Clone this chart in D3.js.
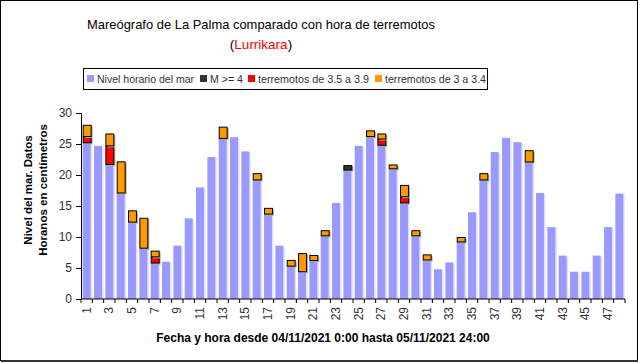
<!DOCTYPE html>
<html><head><meta charset="utf-8">
<script src="https://cdn.jsdelivr.net/npm/d3@7"></script>
<style>body{margin:0;background:#fff}svg{display:block;font-family:Arial,"Liberation Sans",sans-serif}</style>
</head><body><svg id="c" width="640" height="363"></svg>
<script>
const categories = ["1","2","3","4","5","6","7","8","9","10","11","12","13","14","15","16","17","18","19","20","21","22","23","24","25","26","27","28","29","30","31","32","33","34","35","36","37","38","39","40","41","42","43","44","45","46","47","48"];
const nivel = [25.2,24.7,21.7,17.1,12.4,8.2,5.8,6.0,8.6,13.0,18.0,22.9,25.9,26.1,23.8,19.2,13.7,8.6,5.3,4.4,6.2,10.2,15.5,20.8,24.7,26.2,24.8,21.0,15.5,10.2,6.3,4.8,5.9,9.2,14.0,19.2,23.7,26.0,25.3,22.1,17.1,11.6,7.0,4.4,4.4,7.0,11.6,17.0];
const m4 =      [0,0,0,0,0,0,0,0,0,0,0,0,0,0,0,0,0,0,0,0,0,0,0,0.8,0,0,0,0,0,0,0,0,0,0,0,0,0,0,0,0,0,0,0,0,0,0,0,0];
const t35 =     [1.0,0,3.0,0,0,0,1.0,0,0,0,0,0,0,0,0,0,0,0,0,0,0,0,0,0,0,0,1.0,0,1.0,0,0,0,0,0,0,0,0,0,0,0,0,0,0,0,0,0,0,0];
const t30 =     [1.9,0,2.0,5.1,1.9,4.9,1.0,0,0,0,0,0,1.9,0,0,1.1,1.0,0,1.0,3.0,0.9,0.9,0,0,0,1.0,0.9,0.7,1.9,0.9,0.9,0,0,0.8,0,1.1,0,0,0,1.9,0,0,0,0,0,0,0,0];
const seriesNames = ["Nivel horario del mar","M >= 4","terremotos de 3.5 a 3.9","terremotos de 3 a 3.4"];
const seriesColors = ["#9999ff","#333333","#ff0000","#ff9900"];
const yTicks = [0,5,10,15,20,25,30];
const xLabels = categories.filter((d,i)=>i%2===0);

const svg = d3.select("#c");
svg.append("rect").attr("x",0.5).attr("y",0.5).attr("width",637).attr("height",360)
  .attr("fill","#fff").attr("stroke","#000").attr("stroke-width",1);
svg.append("line").attr("x1",1).attr("x2",638).attr("y1",361).attr("y2",361).attr("stroke","#333").attr("stroke-width",2);

const m = {l:81,r:625,t:113,b:299};
const x = d3.scaleBand().domain(categories).range([m.l,m.r]).paddingInner(0.3).paddingOuter(0.15);
const xb = d3.scaleBand().domain(categories).range([m.l,m.r]);
const y = d3.scaleLinear().domain([0,30]).range([m.b,m.t]);

const table = categories.map((c,i)=>({cat:c, s0:nivel[i], s1:m4[i], s2:t35[i], s3:t30[i]}));
const keys = ["s0","s1","s2","s3"];
const stacked = d3.stack().keys(keys)(table);

// blue bars with faint shadow
const blue = stacked[0];
svg.append("g").selectAll("rect").data(blue).join("rect")
  .attr("x",d=>x(d.data.cat)+1.5).attr("y",d=>y(d[1])+1).attr("width",x.bandwidth())
  .attr("height",d=>y(d[0])-y(d[1])-1).attr("fill","#e2e2f4");
svg.append("g").selectAll("rect").data(blue).join("rect")
  .attr("x",d=>x(d.data.cat)).attr("y",d=>y(d[1])).attr("width",x.bandwidth())
  .attr("height",d=>y(d[0])-y(d[1])).attr("fill",seriesColors[0]);

// earthquake segments
stacked.slice(1).forEach((s,k)=>{
  const segs = s.filter(d=>d[1]-d[0]>0);
  const g = svg.append("g");
  g.selectAll("rect.sh").data(segs).join("rect").attr("class","sh")
    .attr("x",d=>x(d.data.cat)+2).attr("y",d=>y(d[1])+1.5).attr("width",x.bandwidth())
    .attr("height",d=>y(d[0])-y(d[1])).attr("fill","#aaa");
  g.selectAll("rect.m").data(segs).join("rect").attr("class","m")
    .attr("x",d=>x(d.data.cat)+0.5).attr("y",d=>y(d[1])+0.5).attr("width",x.bandwidth())
    .attr("height",d=>Math.max(1,y(d[0])-y(d[1])-0.5)).attr("fill",seriesColors[k+1])
    .attr("stroke","#000").attr("stroke-width",1);
});

// y axis
const ya = svg.append("g").attr("transform",`translate(${m.l},0)`)
  .call(d3.axisLeft(y).tickValues(yTicks).tickSize(5).tickPadding(4));
ya.select(".domain").attr("stroke","#000");
ya.selectAll("line").attr("stroke","#000");
ya.selectAll("text").attr("font-size",12).attr("fill","#333").attr("font-family","Arial, Liberation Sans");

// x axis
const xa = svg.append("g").attr("transform",`translate(0,${m.b})`);
xa.append("line").attr("x1",m.l).attr("x2",m.r).attr("stroke","#000");
xa.selectAll("line.t").data(categories.concat(["end"])).join("line").attr("class","t")
  .attr("x1",(d,i)=>i<categories.length?xb(d):m.r).attr("x2",(d,i)=>i<categories.length?xb(d):m.r)
  .attr("y1",0).attr("y2",4).attr("stroke","#000");
xa.selectAll("text").data(xLabels).join("text")
  .attr("transform",d=>`translate(${xb(d)+xb.bandwidth()/2+4},8) rotate(-90)`)
  .attr("text-anchor","end").attr("font-size",12).attr("fill","#333").text(d=>d);

// titles
svg.append("text").attr("x",261).attr("y",29).attr("text-anchor","middle")
  .attr("font-size",13.5).attr("fill","#000").attr("textLength",348).attr("lengthAdjust","spacingAndGlyphs")
  .text("Mareógrafo de La Palma comparado con hora de terremotos");
const t2 = svg.append("text").attr("x",261).attr("y",48.5).attr("text-anchor","middle").attr("font-size",13.5).attr("fill","#000");
t2.append("tspan").text("(");
t2.append("tspan").attr("fill","#ff0000").text("Lurrikara");
t2.append("tspan").text(")");

svg.append("text").attr("x",323).attr("y",342).attr("text-anchor","middle")
  .attr("font-size",12).attr("font-weight","bold").attr("fill","#000")
  .text("Fecha y hora desde 04/11/2021 0:00 hasta 05/11/2021 24:00");

const yt = svg.append("text").attr("transform","translate(0,190) rotate(-90)")
  .attr("text-anchor","middle").attr("font-size",11.5).attr("font-weight","bold").attr("fill","#000");
yt.append("tspan").attr("x",0).attr("y",32).text("Nivel del mar. Datos");
yt.append("tspan").attr("x",0).attr("y",47).text("Horanos en centímetros");

// legend
const lg = svg.append("g");
lg.append("rect").attr("x",83.5).attr("y",68.5).attr("width",404).attr("height",21)
  .attr("fill","#fff").attr("stroke","#000");
const lx = [87,200,248,375];
const lw = [97,33,111,101];
seriesNames.forEach((n,i)=>{
  lg.append("rect").attr("x",lx[i]).attr("y",75).attr("width",7).attr("height",7).attr("fill",seriesColors[i]);
  lg.append("text").attr("x",lx[i]+10).attr("y",83).attr("font-size",11).attr("fill","#333")
    .attr("textLength",lw[i]).attr("lengthAdjust","spacingAndGlyphs").text(n);
});
</script></body></html>
